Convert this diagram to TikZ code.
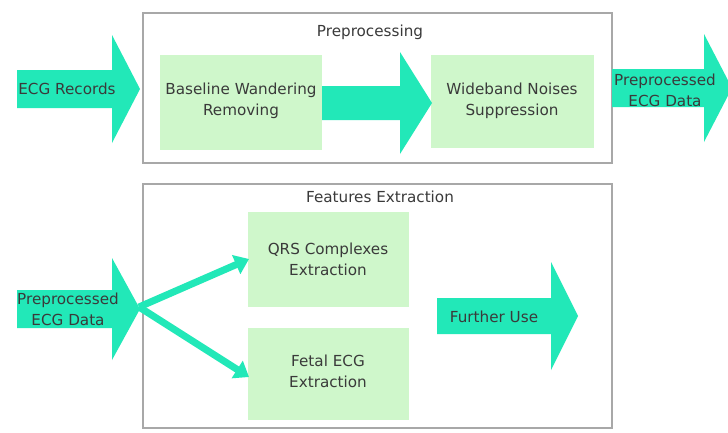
\documentclass[tikz,border=0pt]{standalone}
\usepackage{fontspec}
\setmainfont{DejaVu Sans}
\usetikzlibrary{arrows.meta}
\definecolor{turq}{HTML}{22E8B8}
\definecolor{boxgreen}{HTML}{CFF7CB}
\definecolor{framegray}{HTML}{A8A8A8}
\definecolor{txt}{HTML}{3A3A3A}
\tikzset{
  panel/.style={draw=framegray, line width=1.3pt, fill=white},
  stagebox/.style={fill=boxgreen, draw=none},
  lbl/.style={text=txt, font=\fontsize{15.2}{21}\selectfont, align=center, inner sep=0pt},
  fat/.style={fill=turq, draw=none},
  branch/.style={draw=turq, line width=7pt, -{Triangle[width=20pt,length=14pt]}},
}
\newcommand{\blockarr}[6]{% x0 xh xt yc bodyhalf headhalf
  \fill[turq] (#1,#4-#5) -- (#2,#4-#5) -- (#2,#4-#6) -- (#3,#4) -- (#2,#4+#6) -- (#2,#4+#5) -- (#1,#4+#5) -- cycle;
}
\begin{document}
\begin{tikzpicture}[x=1pt,y=-1pt]
\useasboundingbox (0,0) rectangle (728,432);
\fill[white] (0,0) rectangle (728,432);
% panels
\draw[panel] (143,13) rectangle (612,163);
\draw[panel] (143,184) rectangle (612,428);
\node[lbl] (ttl1) at (370,32) {Preprocessing};
\node[lbl] (ttl2) at (380,197) {Features Extraction};
% stage boxes
\fill[stagebox] (160,55) rectangle (322,150);
\node[lbl] (base) at (241,101) {Baseline Wandering\\Removing};
\fill[stagebox] (431,55) rectangle (594,148);
\node[lbl] (wide) at (512,101) {Wideband Noises\\Suppression};
\fill[stagebox] (248,212) rectangle (409,307);
\node[lbl] (qrs) at (328,259) {QRS Complexes\\Extraction};
\fill[stagebox] (248,328) rectangle (409,420);
\node[lbl] (fetal) at (328,371) {Fetal ECG\\Extraction};
% block arrows
\blockarr{17}{112}{140}{89}{19}{54}
\node[lbl] (rec) at (67,89) {ECG Records};
\blockarr{322}{400}{432}{103}{17}{51}
\blockarr{612}{704}{732}{88}{19}{54}
\node[lbl] (out) at (665,90) {Preprocessed\\ECG Data};
\blockarr{17}{112}{140}{309}{19}{51}
\node[lbl] (inp) at (68,309) {Preprocessed\\ECG Data};
\blockarr{437}{551}{578}{316}{18}{54}
\node[lbl] (fur) at (494,317) {Further Use};
% branches
\coordinate (src) at (139,307);
\coordinate (qin) at (249,259);
\coordinate (fin) at (249,377);
\draw[branch] (src) -- (qin);
\draw[branch] (src) -- (fin);
\end{tikzpicture}
\end{document}
